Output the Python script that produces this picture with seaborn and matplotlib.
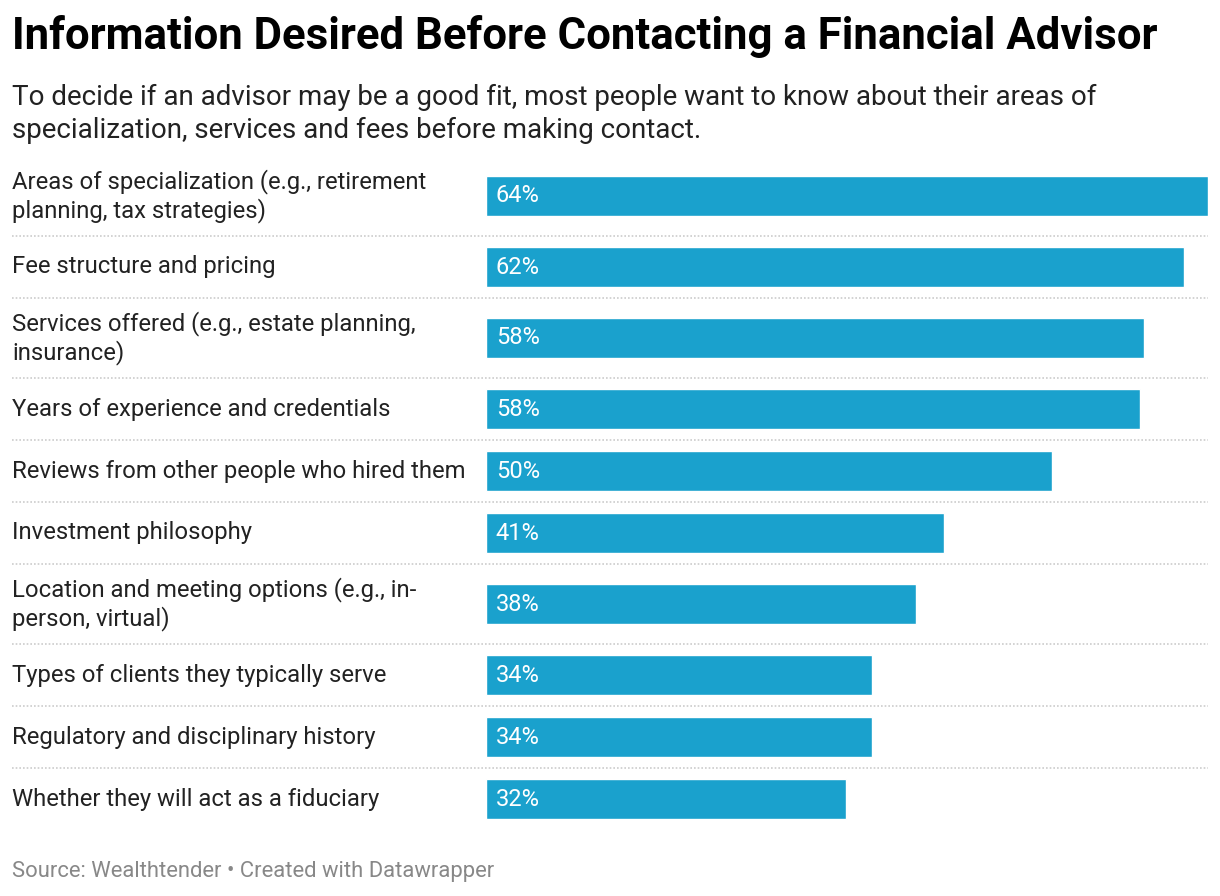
import matplotlib
matplotlib.use('agg')
import matplotlib.pyplot as plt
import matplotlib.transforms as mtransforms
import numpy as np
import pandas as pd
import seaborn as sns

# --- data ---
categories = [
    'Areas of specialization (e.g., retirement\nplanning, tax strategies)',
    'Fee structure and pricing',
    'Services offered (e.g., estate planning,\ninsurance)',
    'Years of experience and credentials',
    'Reviews from other people who hired them',
    'Investment philosophy',
    'Location and meeting options (e.g., in-\nperson, virtual)',
    'Types of clients they typically serve',
    'Regulatory and disciplinary history',
    'Whether they will act as a fiduciary',
]
values = [64.0, 61.9, 58.3, 58.0, 50.2, 40.6, 38.1, 34.2, 34.2, 31.9]
value_labels = ['64%', '62%', '58%', '58%', '50%', '41%', '38%', '34%', '34%', '32%']

title = 'Information Desired Before Contacting a Financial Advisor'
subtitle = ('To decide if an advisor may be a good fit, most people want to know about their areas of\n'
            'specialization, services and fees before making contact.')
source = 'Source: Wealthtender \u2022 Created with Datawrapper'

bar_color = '#1aa1cd'

# --- layout: row height grows with the number of label lines ---
row_h = np.array([62 + 18 * (c.count('\n')) for c in categories], dtype=float)
edges = np.concatenate([[0], np.cumsum(row_h)])
centers = edges[:-1] + row_h / 2

df = pd.DataFrame({'category': categories, 'value': values, 'pos': centers})

sns.set_theme(style='white')
plt.rcParams['font.family'] = ['Roboto', 'DejaVu Sans']

W, H = 1220, 896
fig = plt.figure(figsize=(W / 100, H / 100), dpi=100)
top_px = 156
ax = fig.add_axes([486 / W, 1 - (top_px + edges[-1]) / H, 722 / W, edges[-1] / H])

sns.barplot(data=df, x='value', y='pos', orient='h', native_scale=True,
            width=40 / 62, color=bar_color, saturation=1, ax=ax)
ax.set_xlim(0, max(values))
ax.set_ylim(edges[-1], 0)
ax.set_xlabel('')
ax.set_ylabel('')
ax.set_xticks([])
ax.set_yticks([])
for s in ax.spines.values():
    s.set_visible(False)

# category labels on the left
blend = mtransforms.blended_transform_factory(fig.transFigure, ax.transData)
for cat, y in zip(categories, centers):
    ax.text(12 / W, y, cat, transform=blend, ha='left', va='center',
            fontsize=17.2, color='#222222', linespacing=1.2)

# value labels inside bars
for lab, y in zip(value_labels, centers):
    ax.annotate(lab, xy=(0, y), xytext=(7, 0), textcoords='offset points',
                ha='left', va='center', fontsize=17, color='white')

# dotted separators
for y in edges[1:-1]:
    ax.plot([12 / W, 1208 / W], [y, y], transform=blend, color='#cccccc',
            linestyle=(0, (1, 1.2)), linewidth=1.2, clip_on=False)

fig.text(12 / W, 1 - 37 / H, title, fontsize=31.5, fontweight='bold',
         color='#000000', va='center', ha='left')
fig.text(12 / W, 1 - 114 / H, subtitle, fontsize=20, color='#222222',
         va='center', ha='left', linespacing=1.3)
fig.text(12 / W, 1 - 871 / H, source, fontsize=15.8, color='#888888',
         va='center', ha='left')

plt.savefig('out.png', dpi=100)
